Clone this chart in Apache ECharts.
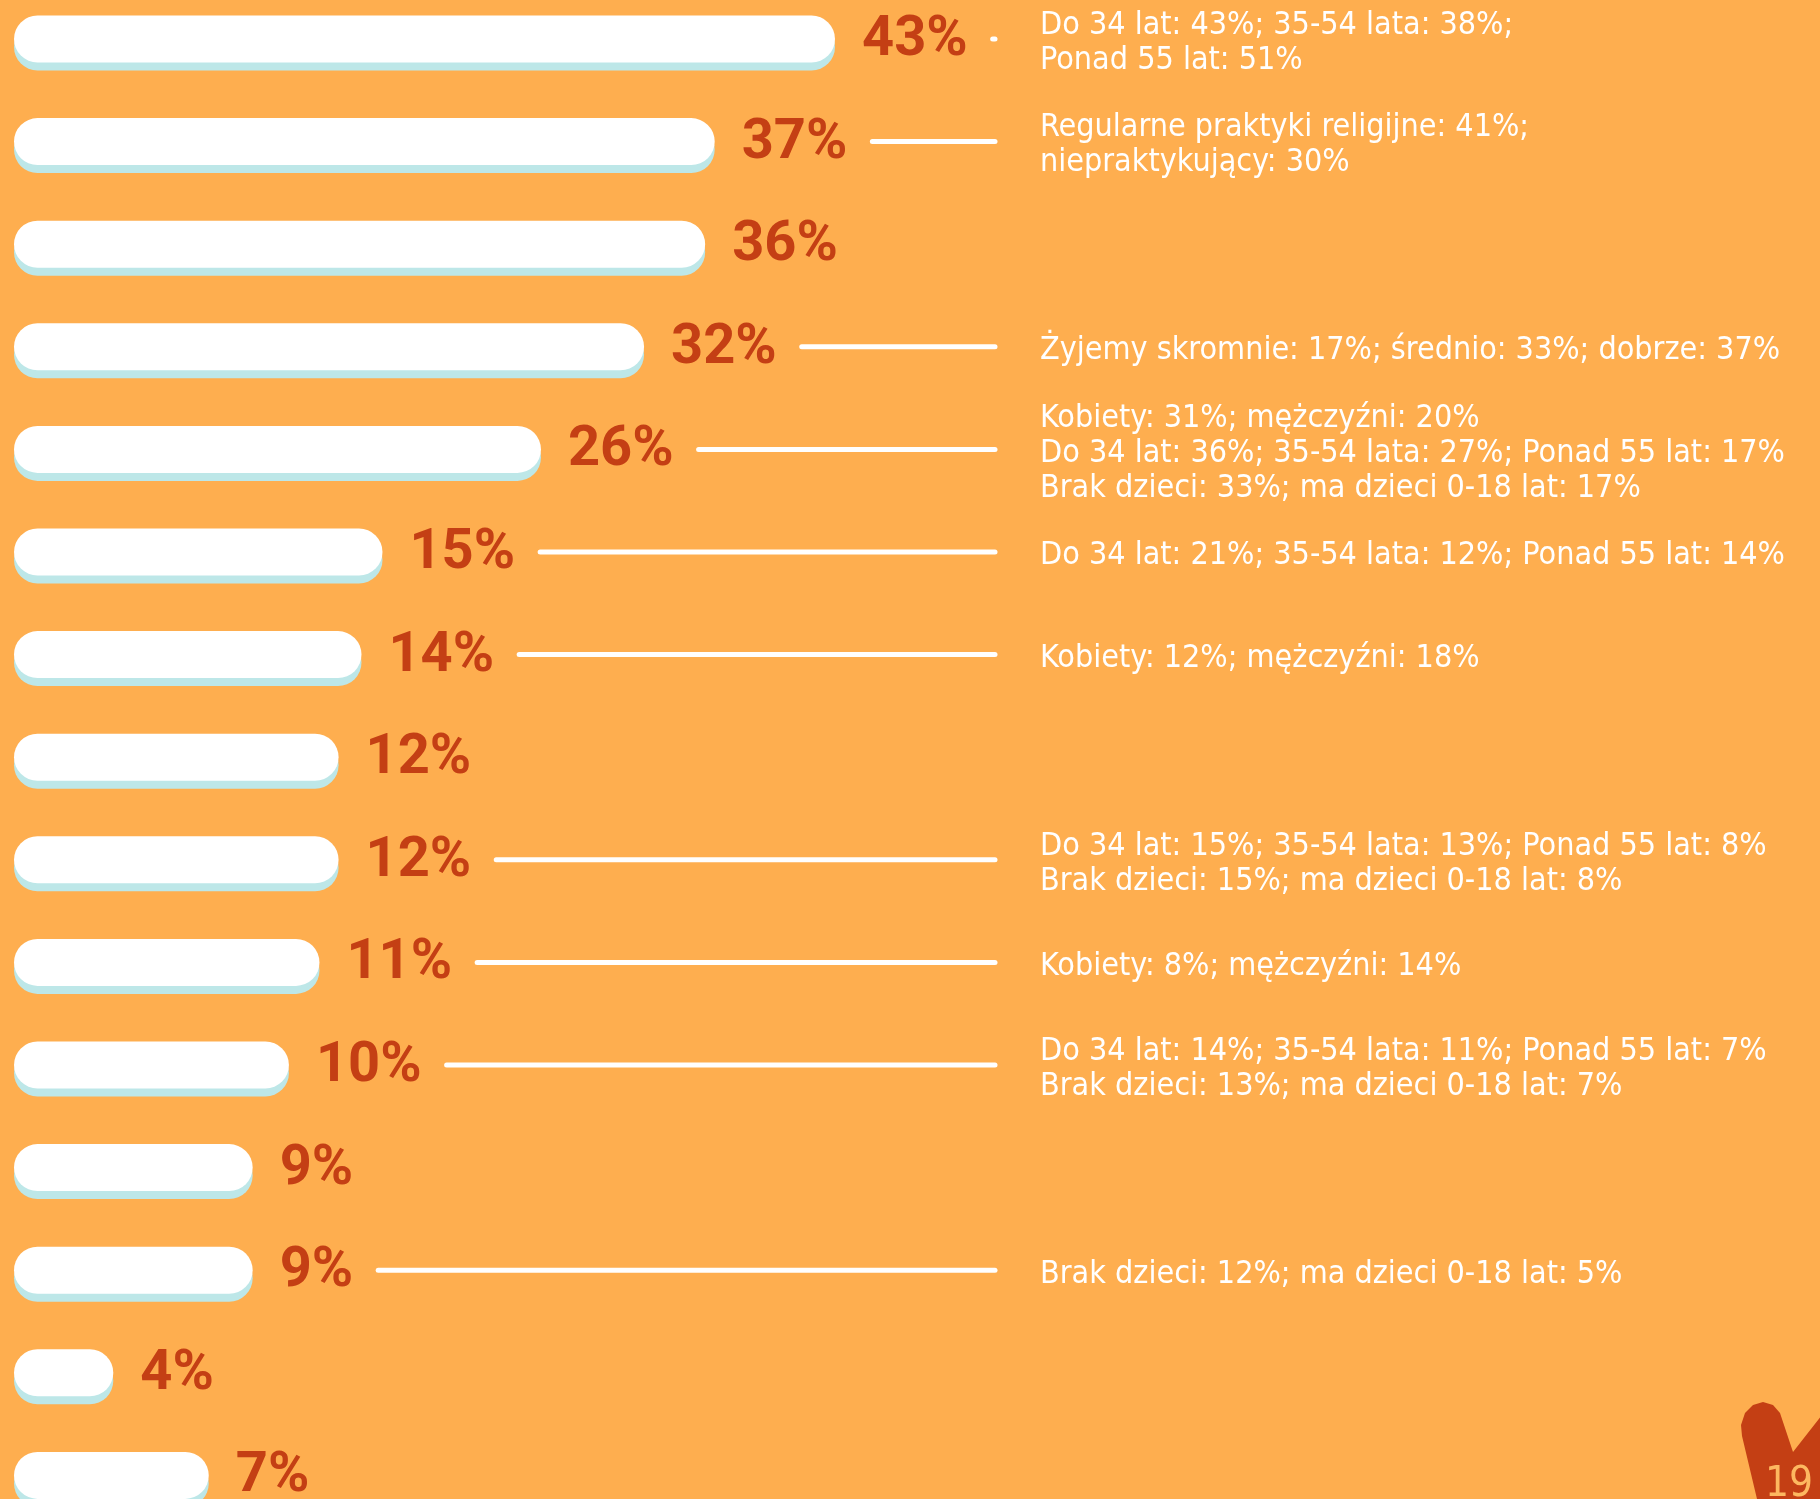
<!DOCTYPE html>
<html>
<head>
<meta charset="utf-8">
<script src="https://cdn.jsdelivr.net/npm/echarts@6/dist/echarts.min.js"></script>
<style>
    html, body { margin: 0; padding: 0; background: #FEAE4F; }
    #chart { width: 1820px; height: 1499px; }
</style>
</head>
<body>
<div id="chart"></div>
<script>
// rows, top to bottom
var rows = ["1","2","3","4","5","6","7","8","9","10","11","12","13","14","15"]
// percent shown next to each bar
var values = [43, 37, 36, 32, 26, 15, 14, 12, 12, 11, 10, 9, 9, 4, 7]
// bar length as drawn in the picture (the bars are not to scale with the labels)
var barLength = [43, 36.7, 36.2, 33, 27.6, 19.3, 18.2, 17, 17, 16, 14.4, 12.5, 12.5, 5.2, 10.2]
// breakdown notes on the right ("" = no note)
var notes = [
    "Do 34 lat: 43%; 35-54 lata: 38%;\nPonad 55 lat: 51%",
    "Regularne praktyki religijne: 41%;\nniepraktykujący: 30%",
    "",
    "Żyjemy skromnie: 17%; średnio: 33%; dobrze: 37%",
    "Kobiety: 31%; mężczyźni: 20%\nDo 34 lat: 36%; 35-54 lata: 27%; Ponad 55 lat: 17%\nBrak dzieci: 33%; ma dzieci 0-18 lat: 17%",
    "Do 34 lat: 21%; 35-54 lata: 12%; Ponad 55 lat: 14%",
    "Kobiety: 12%; mężczyźni: 18%",
    "",
    "Do 34 lat: 15%; 35-54 lata: 13%; Ponad 55 lat: 8%\nBrak dzieci: 15%; ma dzieci 0-18 lat: 8%",
    "Kobiety: 8%; mężczyźni: 14%",
    "Do 34 lat: 14%; 35-54 lata: 11%; Ponad 55 lat: 7%\nBrak dzieci: 13%; ma dzieci 0-18 lat: 7%",
    "",
    "Brak dzieci: 12%; ma dzieci 0-18 lat: 5%",
    "",
    ""
]

var bgColor = "#FEAE4F"
var redColor = "#C43F14"
var labelFont = "Roboto, 'DejaVu Sans Condensed', sans-serif"
var noteFont = "'DejaVu Sans Condensed', 'DejaVu Sans', sans-serif"
var labelSize = 56
var labelGap = 27
var lineEndX = 995
var noteX = 1040

// measure the value label so the connector starts right after it
var measureCtx = document.createElement("canvas").getContext("2d")
function labelWidth(txt) {
    measureCtx.font = "bold " + labelSize + "px " + labelFont
    return measureCtx.measureText(txt).width
}

var noteData = []
notes.forEach((n, i) => {
    if (n) noteData.push([barLength[i], i])
})

var chart = echarts.init(document.getElementById("chart"))

var option = {
    backgroundColor: bgColor,
    animation: false,
    grid: {
        left: 14,
        top: 39,
        width: 821,
        height: 1436.4
    },
    xAxis: {
        type: "value",
        min: 0,
        max: 43,
        show: false
    },
    yAxis: {
        type: "category",
        data: rows,
        inverse: true,
        boundaryGap: false,
        show: false
    },
    series: [
        {
            type: "bar",
            data: barLength.map((v, i) => ({ value: v, label: { formatter: values[i] + "%" } })),
            barWidth: 47,
            clip: false,
            itemStyle: {
                color: "#ffffff",
                borderRadius: 24,
                shadowColor: "#BDE7E8",
                shadowBlur: 0,
                shadowOffsetY: 8
            },
            label: {
                show: true,
                position: "right",
                distance: labelGap,
                color: redColor,
                fontFamily: labelFont,
                fontWeight: "bold",
                fontSize: labelSize,
                offset: [0, 2]
            },
            silent: true
        },
        {
            type: "custom",
            data: noteData,
            encode: { x: 0, y: 1 },
            clip: false,
            silent: true,
            renderItem: function(params, api) {
                var i = api.value(1)
                var p = api.coord([api.value(0), i])
                var startX = p[0] + labelGap + labelWidth(values[i] + "%") + 25
                var children = []
                if (startX < lineEndX) {
                    children.push({
                        type: "line",
                        shape: { x1: startX, y1: p[1], x2: lineEndX, y2: p[1] },
                        style: { stroke: "#ffffff", lineWidth: 5, lineCap: "round" }
                    })
                }
                children.push({
                    type: "text",
                    x: noteX,
                    y: p[1] + 4,
                    style: {
                        text: notes[i],
                        fill: "#ffffff",
                        fontFamily: noteFont,
                        fontSize: 32,
                        lineHeight: 35,
                        align: "left",
                        verticalAlign: "middle"
                    }
                })
                return { type: "group", children: children }
            }
        }
    ],
    graphic: [
        {
            // page-number badge in the corner
            type: "polygon",
            shape: {
                points: [
                    [1793, 1452], [1840, 1392], [1840, 1520], [1762, 1520], [1742, 1436],
                    [1741, 1425], [1745, 1413], [1753, 1405], [1763, 1402], [1773, 1405], [1780, 1413]
                ]
            },
            style: { fill: redColor }
        },
        {
            type: "text",
            x: 1765,
            y: 1464,
            style: {
                text: "19",
                fill: "#FDB860",
                fontFamily: "'DejaVu Sans Condensed', sans-serif",
                fontSize: 42,
                fontWeight: 500
            }
        }
    ]
}
chart.setOption(option)
</script>
</body>
</html>
